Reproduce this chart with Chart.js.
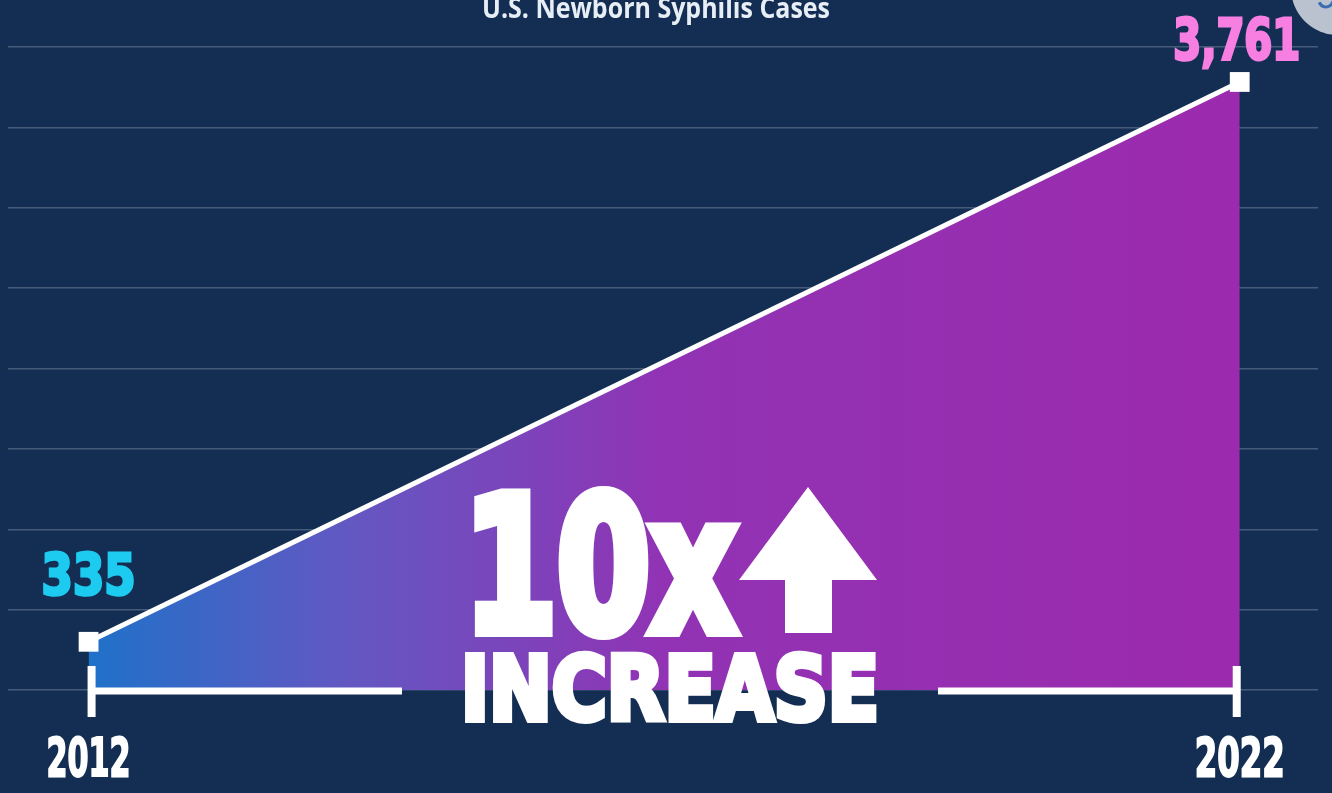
<!DOCTYPE html>
<html>
<head>
<meta charset="utf-8">
<title>U.S. Newborn Syphilis Cases</title>
<script src="https://cdn.jsdelivr.net/npm/chart.js@4.4.1/dist/chart.umd.min.js"></script>
<style>
    html, body { margin: 0; padding: 0; background: #132e52; }
    #wrap { width: 1332px; height: 793px; position: relative; }
</style>
</head>
<body>
<div id="wrap"><canvas id="syphilisChart"></canvas></div>
<script>
// Chart data
const years = [2012, 2022];
const cases = [335, 3761];
const yearLabels = ['2012', '2022'];
const caseLabels = ['335', '3,761'];
const caseColors = ['#1dcbf0', '#f77fe1'];
const chartTitle = 'U.S. Newborn Syphilis Cases';
const headline = '10x';
const subline = 'INCREASE';

const bigFont = "'DejaVu Sans Condensed', 'DejaVu Sans', sans-serif";
const titleFont = "'Open Sans', 'Noto Sans', sans-serif";

// draw text to a given cap height and width (the original uses a heavy condensed face,
// so an outline of the same colour thickens the strokes)
function fitText(ctx, text, cx, base, cap, width, color, weight, family, extra) {
    extra = extra || 0;
    ctx.save();
    ctx.font = weight + ' ' + ((cap - extra) / 0.73) + 'px ' + family;
    const w = ctx.measureText(text).width;
    const sx = (width - extra) / w;
    ctx.translate(cx, base - extra / 2);
    ctx.scale(sx, 1);
    ctx.fillStyle = color;
    ctx.textAlign = 'center';
    ctx.textBaseline = 'alphabetic';
    ctx.fillText(text, 0, 0);
    if (extra > 0) {
        ctx.strokeStyle = color;
        ctx.lineJoin = 'miter';
        ctx.lineWidth = extra;
        ctx.strokeText(text, 0, 0);
    }
    ctx.restore();
}

const decorPlugin = {
    id: 'decor',
    afterDraw(chart) {
        const ctx = chart.ctx;
        const x = chart.scales.x;
        const y = chart.scales.y;
        const base = chart.chartArea.bottom + 1;
        const x0 = x.getPixelForValue(years[0]);
        const x1 = x.getPixelForValue(years[1]);

        // baseline with a gap for the headline
        ctx.save();
        ctx.strokeStyle = '#ffffff';
        ctx.lineWidth = 7;
        ctx.beginPath();
        ctx.moveTo(x0, base); ctx.lineTo(402, base);
        ctx.moveTo(938, base); ctx.lineTo(x1, base);
        ctx.stroke();
        ctx.lineWidth = 8;
        ctx.beginPath();
        ctx.moveTo(x0 + 3, base - 25); ctx.lineTo(x0 + 3, base + 26);
        ctx.moveTo(x1 - 3, base - 25); ctx.lineTo(x1 - 3, base + 26);
        ctx.stroke();
        ctx.restore();

        // year labels
        fitText(ctx, yearLabels[0], x0, 777, 41, 86, '#ffffff', 'bold', bigFont, 2);
        fitText(ctx, yearLabels[1], x1, 777, 41, 92, '#ffffff', 'bold', bigFont, 2);

        // value labels above the points
        const p0 = y.getPixelForValue(cases[0]);
        const p1 = y.getPixelForValue(cases[1]);
        fitText(ctx, caseLabels[0], x0, p0 - 45, 44, 97, caseColors[0], 'bold', bigFont, 3);
        fitText(ctx, caseLabels[1], x1 - 3, p1 - 20, 44, 130, caseColors[1], 'bold', bigFont, 3);

        // headline
        fitText(ctx, headline, 600, 637, 149, 284, '#ffffff', 'bold', bigFont, 12);
        fitText(ctx, subline, 670, 723, 71, 424, '#ffffff', 'bold', bigFont, 6);

        // up arrow
        ctx.save();
        ctx.fillStyle = '#ffffff';
        ctx.beginPath();
        ctx.moveTo(808, 487);
        ctx.lineTo(877, 580);
        ctx.lineTo(832, 580);
        ctx.lineTo(832, 633);
        ctx.lineTo(785, 633);
        ctx.lineTo(785, 580);
        ctx.lineTo(739, 580);
        ctx.closePath();
        ctx.fill();
        ctx.restore();

        // title, cut off at the top edge
        fitText(ctx, chartTitle, 656, 18, 21, 348, '#e8eef6', '700', titleFont);

        // round badge peeking in at the corner
        ctx.save();
        ctx.fillStyle = '#b9c2ce';
        ctx.beginPath();
        ctx.arc(1338, -12, 47, 0, Math.PI * 2);
        ctx.fill();
        ctx.strokeStyle = '#3a6cb0';
        ctx.lineWidth = 3;
        ctx.beginPath();
        ctx.arc(1326, 0, 7, 0.2, Math.PI * 0.9);
        ctx.stroke();
        ctx.restore();
    }
};

const ctx = document.getElementById('syphilisChart').getContext('2d');

new Chart(ctx, {
    type: 'line',
    data: {
        datasets: [{
            label: chartTitle,
            data: years.map((yr, i) => ({ x: yr, y: cases[i] })),
            borderColor: '#ffffff',
            borderWidth: 5,
            tension: 0,
            fill: 'start',
            backgroundColor: function(context) {
                const chart = context.chart;
                if (!chart.chartArea) return '#9b2aae';
                const xs = chart.scales.x;
                const g = chart.ctx.createLinearGradient(xs.getPixelForValue(years[0]), 0, xs.getPixelForValue(years[1]), 0);
                g.addColorStop(0, '#1f71c9');
                g.addColorStop(0.23, '#6457c2');
                g.addColorStop(0.5, '#9133b4');
                g.addColorStop(1, '#9c2aae');
                return g;
            },
            pointStyle: 'rect',
            pointRadius: 14,
            pointHoverRadius: 14,
            pointBackgroundColor: '#ffffff',
            pointBorderWidth: 0,
            clip: false
        }]
    },
    options: {
        responsive: true,
        maintainAspectRatio: false,
        animation: false,
        layout: {
            autoPadding: false,
            padding: { left: 8, right: 14, top: 47, bottom: 103 }
        },
        plugins: {
            legend: { display: false },
            tooltip: { enabled: false },
            title: { display: false }
        },
        scales: {
            x: {
                type: 'linear',
                display: false,
                min: 2011.3,
                max: 2022.68
            },
            y: {
                display: true,
                min: 40,
                max: 3975,
                z: 1,
                border: { display: false },
                ticks: { display: false },
                grid: {
                    color: 'rgba(255, 255, 255, 0.22)',
                    lineWidth: 1.5,
                    drawTicks: false
                },
                afterBuildTicks: function(scale) {
                    // 8 equal bands, as in the original
                    const ticks = [];
                    for (let i = 0; i <= 8; i++) {
                        ticks.push({ value: scale.min + (scale.max - scale.min) * i / 8 });
                    }
                    scale.ticks = ticks;
                }
            }
        }
    },
    plugins: [decorPlugin]
});
</script>
</body>
</html>
